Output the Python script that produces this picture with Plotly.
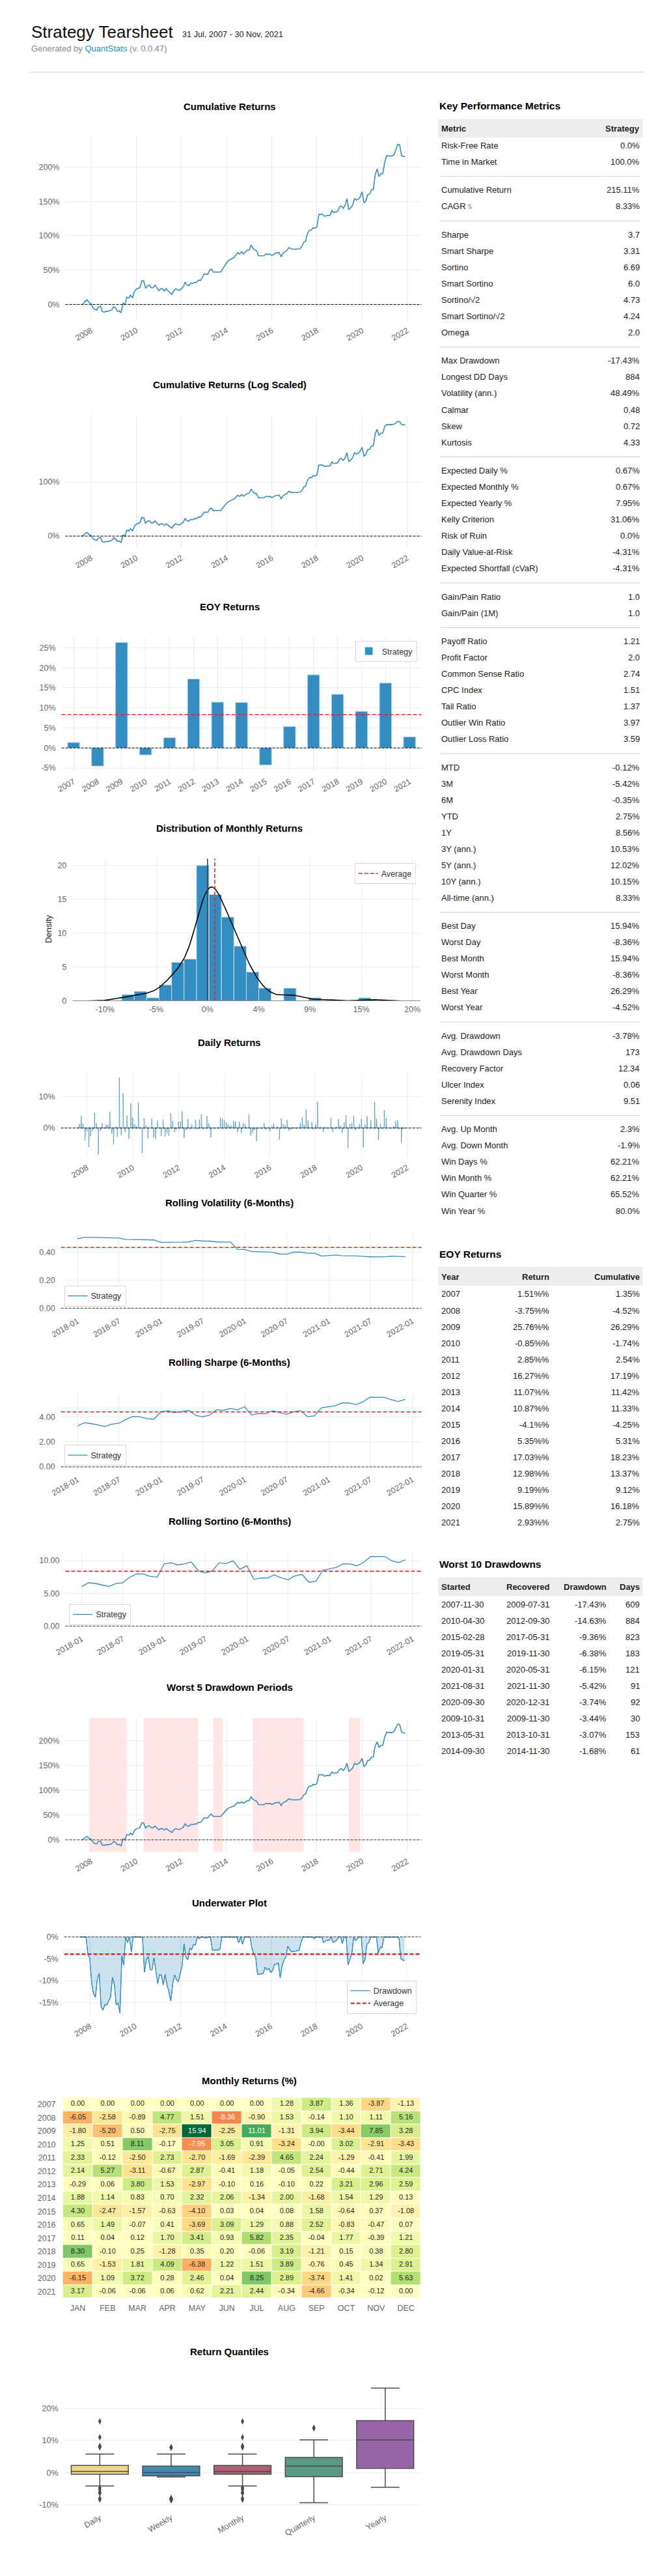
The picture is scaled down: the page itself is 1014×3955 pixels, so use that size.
import colorsys
import numpy as np
import pandas as pd
import plotly.graph_objects as go

# ======================= DATA =======================
heat_years = list(range(2007, 2022))
month_names = ["JAN", "FEB", "MAR", "APR", "MAY", "JUN", "JUL", "AUG", "SEP", "OCT", "NOV", "DEC"]
m2007 = [0.00, 0.00, 0.00, 0.00, 0.00, 0.00, 0.00, 1.28, 3.87, 1.36, -3.87, -1.13]
m2008 = [-6.05, -2.58, -0.89, 4.77, 1.51, -8.36, -0.90, 1.53, -0.14, 1.10, 1.11, 5.16]
m2009 = [-1.80, -5.20, 0.50, -2.75, 15.94, -2.25, 11.01, -1.31, 3.94, -3.44, 7.85, 3.28]
m2010 = [1.25, 0.51, 8.11, -0.17, -7.95, 3.05, 0.91, -3.24, -0.00, 3.02, -2.91, -3.43]
m2011 = [2.33, -0.12, -2.50, 2.73, -2.70, -1.69, -2.39, 4.65, 2.24, -1.29, -0.41, 1.99]
m2012 = [2.14, 5.27, -3.11, -0.67, 2.87, -0.41, 1.18, -0.05, 2.54, -0.44, 2.71, 4.24]
m2013 = [-0.29, 0.06, 3.80, 1.53, -2.97, -0.10, 0.16, -0.10, 0.22, 3.21, 2.96, 2.59]
m2014 = [1.88, 1.14, 0.83, 0.70, 2.32, 2.06, -1.34, 2.00, -1.68, 1.54, 1.29, 0.13]
m2015 = [4.30, -2.47, -1.57, -0.63, -4.10, 0.03, 0.04, 0.08, 1.58, -0.64, 0.37, -1.08]
m2016 = [0.65, 1.49, -0.07, 0.41, -3.69, 3.09, 1.29, 0.88, 2.52, -0.83, -0.47, 0.07]
m2017 = [0.11, 0.04, 0.12, 1.70, 3.41, 0.93, 5.82, 2.35, -0.04, 1.77, -0.39, 1.21]
m2018 = [8.30, -0.10, 0.25, -1.28, 0.35, 0.20, -0.06, 3.19, -1.21, 0.15, 0.38, 2.80]
m2019 = [0.65, -1.53, 1.81, 4.09, -6.38, 1.22, 1.51, 3.89, -0.76, 0.45, 1.34, 2.91]
m2020 = [-6.15, 1.09, 3.72, 0.28, 2.46, 0.04, 8.25, 2.89, -3.74, 1.41, 0.02, 5.63]
m2021 = [3.17, -0.06, -0.06, 0.06, 0.62, 2.21, 2.44, -0.34, -4.66, -0.34, -0.12, 0.00]
monthly_rows = [m2007, m2008, m2009, m2010, m2011, m2012, m2013, m2014,
                m2015, m2016, m2017, m2018, m2019, m2020, m2021]
first_month = "2007-07-31"
last_month = "2021-11-30"

eoy_years = list(range(2007, 2022))
eoy_return = [1.51, -3.75, 25.76, -0.85, 2.85, 16.27, 11.07, 10.87, -4.1, 5.35, 17.03, 12.98, 9.19, 15.89, 2.93]
eoy_cumulative = [1.35, -4.52, 26.29, -1.74, 2.54, 17.19, 11.42, 11.33, -4.25, 5.31, 18.23, 13.37, 9.12, 16.18, 2.75]

metric_groups = [
    [("Risk-Free Rate", "0.0%"), ("Time in Market", "100.0%")],
    [("Cumulative Return", "215.11%"), ("CAGR\ufe6a", "8.33%")],
    [("Sharpe", "3.7"), ("Smart Sharpe", "3.31"), ("Sortino", "6.69"), ("Smart Sortino", "6.0"),
     ("Sortino/\u221a2", "4.73"), ("Smart Sortino/\u221a2", "4.24"), ("Omega", "2.0")],
    [("Max Drawdown", "-17.43%"), ("Longest DD Days", "884"), ("Volatility (ann.)", "48.49%"),
     ("Calmar", "0.48"), ("Skew", "0.72"), ("Kurtosis", "4.33")],
    [("Expected Daily %", "0.67%"), ("Expected Monthly %", "0.67%"), ("Expected Yearly %", "7.95%"),
     ("Kelly Criterion", "31.06%"), ("Risk of Ruin", "0.0%"), ("Daily Value-at-Risk", "-4.31%"),
     ("Expected Shortfall (cVaR)", "-4.31%")],
    [("Gain/Pain Ratio", "1.0"), ("Gain/Pain (1M)", "1.0")],
    [("Payoff Ratio", "1.21"), ("Profit Factor", "2.0"), ("Common Sense Ratio", "2.74"),
     ("CPC Index", "1.51"), ("Tail Ratio", "1.37"), ("Outlier Win Ratio", "3.97"),
     ("Outlier Loss Ratio", "3.59")],
    [("MTD", "-0.12%"), ("3M", "-5.42%"), ("6M", "-0.35%"), ("YTD", "2.75%"), ("1Y", "8.56%"),
     ("3Y (ann.)", "10.53%"), ("5Y (ann.)", "12.02%"), ("10Y (ann.)", "10.15%"),
     ("All-time (ann.)", "8.33%")],
    [("Best Day", "15.94%"), ("Worst Day", "-8.36%"), ("Best Month", "15.94%"),
     ("Worst Month", "-8.36%"), ("Best Year", "26.29%"), ("Worst Year", "-4.52%")],
    [("Avg. Drawdown", "-3.78%"), ("Avg. Drawdown Days", "173"), ("Recovery Factor", "12.34"),
     ("Ulcer Index", "0.06"), ("Serenity Index", "9.51")],
    [("Avg. Up Month", "2.3%"), ("Avg. Down Month", "-1.9%"), ("Win Days %", "62.21%"),
     ("Win Month %", "62.21%"), ("Win Quarter %", "65.52%"), ("Win Year %", "80.0%")],
]

dd_started = ["2007-11-30", "2010-04-30", "2015-02-28", "2019-05-31", "2020-01-31",
              "2021-08-31", "2020-09-30", "2009-10-31", "2013-05-31", "2014-09-30"]
dd_recovered = ["2009-07-31", "2012-09-30", "2017-05-31", "2019-11-30", "2020-05-31",
                "2021-11-30", "2020-12-31", "2009-11-30", "2013-10-31", "2014-11-30"]
dd_drawdown = [-17.43, -14.63, -9.36, -6.38, -6.15, -5.42, -3.74, -3.44, -3.07, -1.68]
dd_days = [609, 884, 823, 183, 121, 91, 92, 30, 153, 61]

shade_start = ["2007-11-30", "2010-04-30", "2013-05-31", "2015-02-28", "2019-05-31"]
shade_end = ["2009-07-31", "2012-09-30", "2013-10-31", "2017-05-31", "2019-11-30"]

quant_names = ["Daily", "Weekly", "Monthly", "Quarterly", "Yearly"]

# ======================= STYLE =======================
W, H = 1014, 3955
FONT = "Liberation Sans, Arial, Helvetica, sans-serif"
BLUE = "#348dc1"
RED = "#e0262b"
GRID = "#ebebeb"
TICK_C = "#666666"
TICK_FS = 12.5
TXT = "#222222"
box_palette = ["#FEDD78", "#348DC1", "#BA516B", "#4FA487", "#9B59B6"]


def month_ends(a, b):
    try:
        return pd.date_range(a, b, freq="ME")
    except Exception:
        return pd.date_range(a, b, freq="M")


def comp(x):
    return (1 + x).prod() - 1


def resample_comp(s, new, old):
    try:
        return s.resample(new).apply(comp)
    except Exception:
        return s.resample(old).apply(comp)


# ======================= DERIVED SERIES =======================
all_idx = month_ends("2007-01-31", "2021-12-31")
flat = [v for row in monthly_rows for v in row]
s_all = pd.Series(flat, index=all_idx, dtype=float) / 100.0
rets = s_all.loc[first_month:last_month]
dates = rets.index

wealth = (1 + rets).cumprod()
cum = wealth - 1
dd = wealth / wealth.cummax() - 1

win = 126
r_std = rets.rolling(win).std()
r_mean = rets.rolling(win).mean()
roll_vol = (r_std * np.sqrt(252)).dropna()
roll_sharpe = (r_mean / r_std * np.sqrt(252)).dropna()
downside = rets.rolling(win).apply(lambda x: (x[x < 0] ** 2).sum(), raw=True) / win
roll_sortino = (r_mean / np.sqrt(downside) * np.sqrt(252)).dropna()

daily = rets.resample("D").sum()

vals = rets.values
counts, edges = np.histogram(vals, bins=20)
density = counts / (len(vals) * np.diff(edges))
centers = (edges[:-1] + edges[1:]) / 2
n = len(vals)
bw = np.std(vals, ddof=1) * n ** (-1 / 5)
kx = np.linspace(vals.min() - 3 * bw, vals.max() + 3 * bw, 200)
ky = np.exp(-0.5 * ((kx[:, None] - vals[None, :]) / bw) ** 2).sum(1) / (n * bw * np.sqrt(2 * np.pi))

port = pd.DataFrame({"Daily": rets.fillna(0)})
port["Weekly"] = port["Daily"].resample("W-MON").apply(comp)
port["Weekly"] = port["Weekly"].ffill()
port["Monthly"] = resample_comp(port["Daily"], "ME", "M")
port["Monthly"] = port["Monthly"].ffill()
port["Quarterly"] = resample_comp(port["Daily"], "QE", "Q")
port["Quarterly"] = port["Quarterly"].ffill()
port["Yearly"] = resample_comp(port["Daily"], "YE", "A")
port["Yearly"] = port["Yearly"].ffill()


def symlog(v, lt=2.0):
    v = np.asarray(v, dtype=float)
    adj = 1.0 / (1 - 1 / 10.0)
    a = np.maximum(np.abs(v), 1e-12)
    return np.where(np.abs(v) <= lt, v * adj, np.sign(v) * lt * (adj + np.log10(a / lt)))


def pad(lo, hi, m=0.05):
    s = hi - lo
    return [lo - s * m, hi + s * m]


def date_pad(d0, d1, m=0.05):
    s = d1 - d0
    return [str(d0 - s * m), str(d1 + s * m)]


def ticks(lo, hi, step, fmt):
    start = np.ceil(lo / step - 1e-9) * step
    vs = []
    v = start
    while v <= hi + 1e-12:
        vs.append(round(v, 10))
        v += step
    tx = []
    for v in vs:
        t = fmt(v)
        if t.startswith("-") and float(t.replace("%", "")) == 0:
            t = t[1:]
        tx.append(t)
    return vs, tx


pct0 = lambda v: f"{v * 100:.0f}%"
num2 = lambda v: f"{v:.2f}"

# ======================= LAYOUT HELPERS =======================
layout = dict(width=W, height=H, margin=dict(l=0, r=0, t=0, b=0), paper_bgcolor="white",
              plot_bgcolor="white", font=dict(family=FONT, size=12, color=TXT),
              hovermode=False, showlegend=True)
shapes = []
anns = []
traces = []


def base_axis():
    return dict(showgrid=True, gridcolor=GRID, gridwidth=1, zeroline=False, showline=False,
                ticks="", tickfont=dict(size=TICK_FS, color=TICK_C, family=FONT), fixedrange=True)


def panel(k, box, xcfg, ycfg):
    x0, x1, y0, y1 = box
    xr = "x" if k == 1 else f"x{k}"
    yr = "y" if k == 1 else f"y{k}"
    xa = base_axis()
    xa.update(domain=[x0 / W, x1 / W], anchor=yr, ticklabelstandoff=4)
    xa.update(xcfg)
    ya = base_axis()
    ya.update(domain=[1 - y1 / H, 1 - y0 / H], anchor=xr, ticklabelstandoff=8)
    ya.update(ycfg)
    layout["xaxis" if k == 1 else f"xaxis{k}"] = xa
    layout["yaxis" if k == 1 else f"yaxis{k}"] = ya
    return xr, yr


def hline(xr, yr, v, color="#000000", width=1, dash="4px,2px"):
    shapes.append(dict(type="line", xref=f"{xr} domain", yref=yr, x0=0, x1=1, y0=v, y1=v,
                       line=dict(color=color, width=width, dash=dash), layer="above"))


def text(xpx, ypx, s, anchor="left", size=13, color=TXT, yanchor="middle", angle=0):
    anns.append(dict(x=xpx / W, y=1 - ypx / H, xref="paper", yref="paper", text=s, showarrow=False,
                     xanchor=anchor, yanchor=yanchor, textangle=angle,
                     font=dict(size=size, color=color, family=FONT)))


def title(ypx, s, xpx=342):
    text(xpx, ypx, f"<b>{s}</b>", anchor="center", size=15, color="#000000")


def legend_cfg(xpx, ypx, xanchor, yanchor):
    return dict(x=xpx / W, y=1 - ypx / H, xanchor=xanchor, yanchor=yanchor, xref="paper", yref="paper",
                bgcolor="rgba(255,255,255,0.92)", bordercolor="#d9d9d9", borderwidth=1,
                font=dict(size=12.5, color="#333333", family=FONT), itemwidth=30, tracegroupgap=0)


date_x = dict(type="date", tick0="2008-01-01", dtick="M24", tickformat="%Y", tickangle=-30)
roll_x = dict(type="date", tick0="2018-01-01", dtick="M6", tickformat="%Y-%m", tickangle=-30)
full_xr = date_pad(dates[0], dates[-1])

# ---------- header ----------
text(30, 48, "Strategy Tearsheet", size=26, color="#111111")
text(266, 52, "31 Jul, 2007 - 30 Nov, 2021", size=12.7, color="#222222")
text(30, 74, "Generated by <span style='color:#1a95cc'>QuantStats</span> (v. 0.0.47)", size=13, color="#8a8a8a")
shapes.append(dict(type="line", xref="paper", yref="paper", x0=30 / W, x1=990 / W, y0=1 - 110 / H,
                   y1=1 - 110 / H, line=dict(color="#cccccc", width=1)))

# ---------- 1. cumulative returns ----------
yr_c = pad(min(cum.min(), 0), cum.max())
tv, tt = ticks(yr_c[0], yr_c[1], 0.5, pct0)
xr, yr = panel(1, (85, 642, 208, 493), dict(date_x, range=full_xr), dict(range=yr_c, tickvals=tv, ticktext=tt))
traces.append(go.Scatter(x=dates, y=cum.values, mode="lines", line=dict(color=BLUE, width=1.6),
                         xaxis=xr, yaxis=yr, showlegend=False))
hline(xr, yr, 0)
title(163, "Cumulative Returns")

# ---------- 2. log scaled ----------
ylog = symlog(cum.values)
yr_l = pad(min(ylog.min(), 0), ylog.max())
xr, yr = panel(2, (85, 642, 638, 843), dict(date_x, range=full_xr),
               dict(range=yr_l, tickvals=list(symlog([0, 1])), ticktext=["0%", "100%"]))
traces.append(go.Scatter(x=dates, y=ylog, mode="lines", line=dict(color=BLUE, width=1.6),
                         xaxis=xr, yaxis=yr, showlegend=False))
hline(xr, yr, 0)
title(591, "Cumulative Returns (Log Scaled)")

# ---------- 3. EOY returns ----------
eoy = np.array(eoy_cumulative) / 100
yr_e = pad(min(eoy.min(), 0), eoy.max())
tv, tt = ticks(yr_e[0], yr_e[1], 0.05, pct0)
xr, yr = panel(3, (79, 642, 978, 1187),
               dict(range=[-0.5, len(eoy_years) - 0.5], tickvals=list(range(len(eoy_years))),
                    ticktext=[str(y) for y in eoy_years], tickangle=-30),
               dict(range=yr_e, tickvals=tv, ticktext=tt))
traces.append(go.Bar(x=list(range(len(eoy_years))), y=eoy, width=0.5, name="Strategy",
                     marker=dict(color=BLUE, line=dict(color="#a9d5ef", width=1)),
                     xaxis=xr, yaxis=yr, legend="legend"))
hline(xr, yr, eoy.mean(), color=RED, width=1.6, dash="6px,3px")
hline(xr, yr, 0)
layout["legend"] = legend_cfg(635, 985, "right", "top")
title(932, "EOY Returns")

# ---------- 4. distribution ----------
xr_d = pad(kx.min(), kx.max())
ytop = max(density.max(), ky.max()) * 1.05
xr, yr = panel(4, (96, 640, 1320, 1539),
               dict(range=xr_d, tickvals=[-0.10, -0.05, 0.0, 0.05, 0.10, 0.15, 0.20],
                    ticktext=["-10%", "-5%", "0%", "4%", "9%", "15%", "20%"]),
               dict(range=[0, ytop], tickvals=[0, 5, 10, 15, 20], ticktext=["0", "5", "10", "15", "20"]))
traces.append(go.Bar(x=centers, y=density, width=np.diff(edges),
                     marker=dict(color=BLUE, line=dict(color="#bfe0f4", width=1)),
                     xaxis=xr, yaxis=yr, showlegend=False))
traces.append(go.Scatter(x=kx, y=ky, mode="lines", line=dict(color="#000000", width=1.6),
                         xaxis=xr, yaxis=yr, showlegend=False))
shapes.append(dict(type="line", xref=xr, yref=f"{yr} domain", x0=0, x1=0, y0=0, y1=1,
                   line=dict(color="#444444", width=1.6), layer="above"))
shapes.append(dict(type="line", xref=f"{xr} domain", yref=yr, x0=0, x1=1, y0=0, y1=0,
                   line=dict(color="#888888", width=1.6), layer="above"))
traces.append(go.Scatter(x=[vals.mean(), vals.mean()], y=[0, ytop], mode="lines", name="Average",
                         line=dict(color=RED, width=1.6, dash="6px,3px"), xaxis=xr, yaxis=yr, legend="legend2"))
layout["legend2"] = legend_cfg(633, 1327, "right", "top")
text(58, 1428, "Density", anchor="center", size=13, color="#222222", angle=-90)
title(1273, "Distribution of Monthly Returns")

# ---------- 5. daily returns ----------
yr_dr = pad(min(daily.min(), 0), daily.max())
tv, tt = ticks(yr_dr[0], yr_dr[1], 0.10, pct0)
xr, yr = panel(5, (78, 642, 1651, 1781), dict(date_x, range=full_xr), dict(range=yr_dr, tickvals=tv, ticktext=tt))
traces.append(go.Scatter(x=daily.index, y=daily.values, mode="lines", line=dict(color=BLUE, width=0.8),
                         opacity=0.85, xaxis=xr, yaxis=yr, showlegend=False))
hline(xr, yr, 0)
title(1603, "Daily Returns")


# ---------- 6-8. rolling metrics ----------
def rolling_panel(k, box, series, step, tity, ttl, leg, legpos):
    yr_r = pad(min(series.min(), 0), series.max())
    tv, tt = ticks(yr_r[0], yr_r[1], step, num2)
    xr, yr = panel(k, box, dict(roll_x, range=date_pad(series.index[0], series.index[-1])),
                   dict(range=yr_r, tickvals=tv, ticktext=tt))
    traces.append(go.Scatter(x=series.index, y=series.values, mode="lines", name="Strategy",
                             line=dict(color=BLUE, width=1.3), xaxis=xr, yaxis=yr, legend=leg))
    hline(xr, yr, series.mean(), color=RED, width=1.6, dash="6px,3px")
    hline(xr, yr, 0, color="#333333")
    layout[leg] = legend_cfg(legpos[0], legpos[1], "left", "bottom")
    title(tity, ttl)


rolling_panel(6, (78, 642, 1897, 2017), roll_vol, 0.2, 1849, "Rolling Volatility (6-Months)", "legend3", (83, 2009))
rolling_panel(7, (78, 642, 2143, 2261), roll_sharpe, 2.0, 2095, "Rolling Sharpe (6-Months)", "legend4", (83, 2254))
rolling_panel(8, (85, 642, 2388, 2506), roll_sortino, 5.0, 2339, "Rolling Sortino (6-Months)", "legend5", (91, 2499))

# ---------- 9. worst 5 drawdown periods ----------
tv, tt = ticks(yr_c[0], yr_c[1], 0.5, pct0)
xr, yr = panel(9, (85, 642, 2642, 2848), dict(date_x, range=full_xr), dict(range=yr_c, tickvals=tv, ticktext=tt))
for s0, s1 in zip(shade_start, shade_end):
    shapes.append(dict(type="rect", xref=xr, yref=f"{yr} domain", x0=s0, x1=s1, y0=0, y1=1,
                       fillcolor="rgba(255,0,0,0.1)", line=dict(width=0), layer="below"))
traces.append(go.Scatter(x=dates, y=cum.values, mode="lines", line=dict(color=BLUE, width=1.6),
                         xaxis=xr, yaxis=yr, showlegend=False))
hline(xr, yr, 0, color="#333333")
title(2595, "Worst 5 Drawdown Periods")

# ---------- 10. underwater ----------
yr_u = pad(dd.min(), 0)
tv, tt = ticks(yr_u[0], yr_u[1], 0.05, pct0)
xr, yr = panel(10, (83, 641, 2973, 3102), dict(date_x, range=full_xr), dict(range=yr_u, tickvals=tv, ticktext=tt))
traces.append(go.Scatter(x=dates, y=dd.values, mode="lines", fill="tozeroy",
                         fillcolor="rgba(52,141,193,0.25)", line=dict(color=BLUE, width=1.1),
                         xaxis=xr, yaxis=yr, showlegend=False))
traces.append(go.Scatter(x=dates, y=dd.values, mode="lines", name="Drawdown",
                         line=dict(color=BLUE, width=1.1), xaxis=xr, yaxis=yr, legend="legend6"))
traces.append(go.Scatter(x=full_xr, y=[dd.mean(), dd.mean()], mode="lines", name="Average",
                         line=dict(color=RED, width=2.4, dash="6px,3px"), xaxis=xr, yaxis=yr, legend="legend6"))
hline(xr, yr, 0, color="#333333")
layout["legend6"] = legend_cfg(634, 3097, "right", "bottom")
title(2926, "Underwater Plot")

# ---------- 11. monthly heatmap ----------
Z = np.array(monthly_rows, dtype=float)
vmax = np.abs(Z).max()
rdylgn = ["#a50026", "#d73027", "#f46d43", "#fdae61", "#fee08b", "#ffffbf",
          "#d9ef8b", "#a6d96a", "#66bd63", "#1a9850", "#006837"]
cscale = [[i / 10, c] for i, c in enumerate(rdylgn)]


def hex2rgb(h):
    h = h.lstrip("#")
    return [int(h[i:i + 2], 16) / 255 for i in (0, 2, 4)]


def cmap(t):
    t = min(max(t, 0), 1) * 10
    i = min(int(t), 9)
    f = t - i
    a, b = hex2rgb(rdylgn[i]), hex2rgb(rdylgn[i + 1])
    return [a[j] + (b[j] - a[j]) * f for j in range(3)]


def lum(rgb):
    c = [v / 12.92 if v <= 0.03928 else ((v + 0.055) / 1.055) ** 2.4 for v in rgb]
    return 0.2126 * c[0] + 0.7152 * c[1] + 0.0722 * c[2]


xr, yr = panel(11, (81, 641, 3226, 3535),
               dict(range=[-0.5, 11.5], tickvals=list(range(12)), ticktext=month_names, showgrid=False,
                    ticklabelstandoff=6),
               dict(range=[2021.5, 2006.5], tickvals=heat_years, ticktext=[str(y) for y in heat_years],
                    showgrid=False, ticklabelstandoff=10))
traces.append(go.Heatmap(z=Z, x=list(range(12)), y=heat_years, colorscale=cscale, zmin=-vmax, zmax=vmax,
                         xgap=1, ygap=1, showscale=False, xaxis=xr, yaxis=yr, hoverinfo="skip"))
tx, ty, tt_, tc = [], [], [], []
for i, yv in enumerate(heat_years):
    for j in range(12):
        v = Z[i, j]
        tx.append(j)
        ty.append(yv)
        tt_.append(f"{v:.2f}")
        tc.append("#ffffff" if lum(cmap(0.5 + v / (2 * vmax))) < 0.408 else "#262626")
traces.append(go.Scatter(x=tx, y=ty, mode="text", text=tt_, textfont=dict(size=11, color=tc, family=FONT),
                         xaxis=xr, yaxis=yr, showlegend=False))
title(3200, "Monthly Returns (%)", xpx=373)

# ---------- 12. return quantiles ----------


def desat(hx, prop=0.75):
    r, g, b = hex2rgb(hx)
    h, l, s = colorsys.rgb_to_hls(r, g, b)
    r, g, b = colorsys.hls_to_rgb(h, l, s * prop)
    return "#%02x%02x%02x" % (int(round(r * 255)), int(round(g * 255)), int(round(b * 255)))


allv = []
stats = []
for name in quant_names:
    v = port[name].dropna().values
    q1, med, q3 = np.percentile(v, [25, 50, 75])
    iqr = q3 - q1
    lo = v[v >= q1 - 1.5 * iqr].min()
    hi = v[v <= q3 + 1.5 * iqr].max()
    fl = v[(v < lo) | (v > hi)]
    stats.append((q1, med, q3, lo, hi, fl))
    allv.extend(list(v))
yr_q = pad(min(allv), max(allv))
tv, tt = ticks(yr_q[0], yr_q[1], 0.10, pct0)
xr, yr = panel(12, (83, 641, 3664, 3858),
               dict(range=[-0.5, 4.5], tickvals=list(range(5)), ticktext=quant_names, tickangle=-30, showgrid=False),
               dict(range=yr_q, tickvals=tv, ticktext=tt))
for i, (q1, med, q3, lo, hi, fl) in enumerate(stats):
    traces.append(go.Box(x=[i], q1=[q1], median=[med], q3=[q3], lowerfence=[lo], upperfence=[hi],
                         width=0.8, whiskerwidth=0.5, fillcolor=desat(box_palette[i]),
                         line=dict(color="#4a4a4a", width=1.5), boxpoints=False,
                         xaxis=xr, yaxis=yr, showlegend=False))
    if len(fl):
        traces.append(go.Scatter(x=[i] * len(fl), y=fl, mode="markers",
                                 marker=dict(symbol="diamond-tall", size=7, color="#4a4a4a"),
                                 xaxis=xr, yaxis=yr, showlegend=False))
title(3617, "Return Quantiles")

# ======================= RIGHT COLUMN TABLES =======================
RX0, RX1 = 671, 985
HDR_FS = 15.5


def band(y0, y1):
    shapes.append(dict(type="rect", xref="paper", yref="paper", x0=668 / W, x1=988 / W,
                       y0=1 - y1 / H, y1=1 - y0 / H, fillcolor="#eeeeee", line=dict(width=0), layer="below"))


def sep(y):
    shapes.append(dict(type="line", xref="paper", yref="paper", x0=RX0 / W, x1=RX1 / W,
                       y0=1 - y / H, y1=1 - y / H, line=dict(color="#d0d0d0", width=1)))


# key metrics
text(668, 162, "<b>Key Performance Metrics</b>", size=HDR_FS, color="#000000")
band(182, 211)
text(RX0, 197, "<b>Metric</b>", size=13, color="#222222")
text(RX1, 197, "<b>Strategy</b>", anchor="right", size=13, color="#222222")
y = 223.0
for gi, grp in enumerate(metric_groups):
    for lab, val in grp:
        text(RX0, y, lab, size=13)
        text(RX1, y, val, anchor="right", size=13)
        y += 25.1
    if gi < len(metric_groups) - 1:
        sep(y - 25.1 + 22.3)
        y += 43.4 - 25.1

# EOY table
text(668, 1928, "<b>EOY Returns</b>", size=HDR_FS, color="#000000")
band(1948, 1977)
text(RX0, 1963, "<b>Year</b>", size=13)
text(844, 1963, "<b>Return</b>", anchor="right", size=13)
text(RX1, 1963, "<b>Cumulative</b>", anchor="right", size=13)
for i, yv in enumerate(eoy_years):
    yy = 1990 + i * 25.1
    text(RX0, yy, str(yv), size=13)
    text(844, yy, f"{eoy_return[i]}%%", anchor="right", size=13)
    text(RX1, yy, f"{eoy_cumulative[i]:.2f}%", anchor="right", size=13)

# worst 10 drawdowns
C_REC, C_DD = 845, 934
y0w = 1990 + 14 * 25.1 + 64
text(668, y0w, "<b>Worst 10 Drawdowns</b>", size=HDR_FS, color="#000000")
band(y0w + 20, y0w + 49)
text(RX0, y0w + 35, "<b>Started</b>", size=13)
text(C_REC, y0w + 35, "<b>Recovered</b>", anchor="right", size=13)
text(C_DD, y0w + 35, "<b>Drawdown</b>", anchor="right", size=13)
text(RX1, y0w + 35, "<b>Days</b>", anchor="right", size=13)
for i in range(len(dd_started)):
    yy = y0w + 62 + i * 25.1
    text(RX0, yy, dd_started[i], size=13)
    text(C_REC, yy, dd_recovered[i], anchor="right", size=13)
    text(C_DD, yy, f"{dd_drawdown[i]:.2f}%", anchor="right", size=13)
    text(RX1, yy, str(dd_days[i]), anchor="right", size=13)

layout["shapes"] = shapes
layout["annotations"] = anns

fig = go.Figure(data=traces, layout=layout)
fig.write_html("out.html", include_plotlyjs=True, full_html=True,
               config={"displayModeBar": False, "staticPlot": True},
               post_script="document.body.style.margin='0';document.body.style.padding='0';")
